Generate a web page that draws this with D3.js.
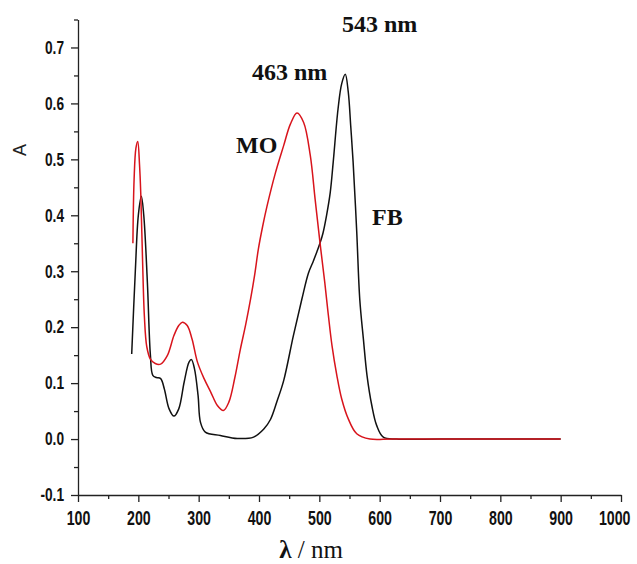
<!DOCTYPE html>
<style>
    body { margin: 0; background: #fff; }
    .axis text { font-family: "Liberation Sans", Arial, sans-serif; font-weight: bold; fill: #111; }
    .axis path, .axis line { stroke: #222; stroke-width: 1.3; }
    .lbl { font-family: "Liberation Serif", "Times New Roman", serif; font-weight: bold; font-size: 24px; fill: #111; }
</style>
<svg width="637" height="564"></svg>
<script src="https://d3js.org/d3.v7.min.js"></script>
<script>
// FB (black) spectrum
var fbWavelength = [189, 195, 200, 205, 209, 215, 220, 224, 230, 237, 243, 251, 259, 267, 276, 284, 288, 293, 299, 303, 311, 336, 364, 391, 408, 419, 430, 441, 457, 471, 482, 490, 496, 501, 506, 512, 518, 523, 531, 537, 543, 548, 552, 556, 562, 567, 573, 579, 587, 595, 606, 628, 700, 800, 900];
var fbAbsorbance = [0.152, 0.30, 0.40, 0.434, 0.40, 0.28, 0.15, 0.114, 0.11, 0.108, 0.09, 0.054, 0.041, 0.054, 0.102, 0.1375, 0.142, 0.126, 0.078, 0.030, 0.0125, 0.0065, 0.001, 0.0035, 0.018, 0.035, 0.068, 0.105, 0.185, 0.25, 0.297, 0.318, 0.335, 0.35, 0.368, 0.40, 0.44, 0.495, 0.59, 0.635, 0.652, 0.62, 0.56, 0.495, 0.37, 0.25, 0.179, 0.114, 0.06, 0.0245, 0.0035, 0.0, 0.0, 0.0, 0.0];

// MO (red) spectrum
var moWavelength = [191, 193, 196, 199, 202, 204, 207, 210, 214, 220, 228, 237, 248, 259, 267, 273, 281, 289, 298, 309, 320, 331, 341, 350, 360, 369, 378, 386, 393, 399, 406, 413, 427, 441, 452, 463, 474, 485, 493, 501, 509, 515, 521, 529, 537, 548, 562, 584, 620, 700, 800, 900];
var moAbsorbance = [0.35, 0.465, 0.52, 0.532, 0.49, 0.44, 0.32, 0.22, 0.165, 0.143, 0.135, 0.134, 0.149, 0.185, 0.203, 0.209, 0.203, 0.179, 0.1375, 0.108, 0.084, 0.060, 0.051, 0.066, 0.11, 0.16, 0.205, 0.25, 0.295, 0.34, 0.38, 0.415, 0.475, 0.525, 0.563, 0.583, 0.566, 0.507, 0.429, 0.352, 0.28, 0.221, 0.167, 0.114, 0.072, 0.036, 0.0095, 0.0, 0.0, 0.0, 0.0, 0.0];

var xTicks = [100, 200, 300, 400, 500, 600, 700, 800, 900, 1000];
var yTicks = [-0.1, 0.0, 0.1, 0.2, 0.3, 0.4, 0.5, 0.6, 0.7];

var svg = d3.select("svg"),
    margin = {top: 19.5, right: 16, bottom: 69, left: 78},
    width = +svg.attr("width") - margin.left - margin.right,
    height = +svg.attr("height") - margin.top - margin.bottom,
    g = svg.append("g").attr("transform", "translate(" + margin.left + "," + margin.top + ")");

var x = d3.scaleLinear().domain([100, 1000]).range([0, width]);
var y = d3.scaleLinear().domain([-0.1, 0.75]).range([height, 0]);

// squeeze tick labels to look like a narrow font
function narrow(sel, k) {
    sel.selectAll("text").each(function() {
        var w = this.getComputedTextLength();
        d3.select(this).attr("textLength", w * k).attr("lengthAdjust", "spacingAndGlyphs");
    });
}

// minor ticks
g.append("g")
    .attr("class", "axis")
    .attr("transform", "translate(0," + height + ")")
    .call(d3.axisBottom(x).tickValues(d3.range(150, 1000, 100)).tickSize(4).tickFormat(""))
    .select(".domain").remove();
g.append("g")
    .attr("class", "axis")
    .call(d3.axisLeft(y).tickValues(d3.range(-0.05, 0.76, 0.1)).tickSize(4).tickFormat(""))
    .select(".domain").remove();

var xAxis = g.append("g")
    .attr("class", "axis")
    .attr("transform", "translate(0," + height + ")")
    .call(d3.axisBottom(x).tickValues(xTicks).tickSize(7).tickSizeOuter(0).tickPadding(9).tickFormat(d3.format("d")));
// condensed look via a horizontal scale on each label
xAxis.selectAll("text")
    .style("font-size", "20px")
    .attr("transform", "scale(0.71,1)");
// last label sits against the right edge
xAxis.selectAll("text").filter(function(d) { return d === 1000; })
    .attr("text-anchor", "end").attr("x", 9 / 0.71);

var yAxis = g.append("g")
    .attr("class", "axis")
    .call(d3.axisLeft(y).tickValues(yTicks).tickSize(7).tickSizeOuter(0).tickPadding(7)
        .tickFormat(function(d) { return d.toFixed(1); }));
yAxis.selectAll("text").style("font-size", "18px");
narrow(yAxis, 0.76);

var line = d3.line()
    .x(function(d) { return x(d[0]); })
    .y(function(d) { return y(d[1]); })
    .curve(d3.curveCatmullRom.alpha(0.5));

var fb = d3.zip(fbWavelength, fbAbsorbance);
var mo = d3.zip(moWavelength, moAbsorbance);

g.append("path")
    .datum(fb)
    .attr("fill", "none")
    .attr("stroke", "#111")
    .attr("stroke-width", 1.5)
    .attr("d", line);

g.append("path")
    .datum(mo)
    .attr("fill", "none")
    .attr("stroke", "#d8141c")
    .attr("stroke-width", 1.5)
    .attr("d", line);

// annotations
svg.append("text").attr("class", "lbl").attr("x", 342).attr("y", 32).text("543 nm");
svg.append("text").attr("class", "lbl").attr("x", 252).attr("y", 80).text("463 nm");
svg.append("text").attr("class", "lbl").attr("x", 236).attr("y", 153).text("MO");
svg.append("text").attr("class", "lbl").attr("x", 372).attr("y", 225).text("FB");

// axis titles
var xt = svg.append("text")
    .attr("x", 311)
    .attr("y", 558)
    .attr("text-anchor", "middle")
    .style("font-family", "'Liberation Serif', 'Times New Roman', serif")
    .style("font-size", "25px")
    .style("fill", "#111");
xt.append("tspan").style("font-weight", "bold").text("λ");
xt.append("tspan").text(" / nm");

svg.append("text")
    .attr("transform", "translate(26,150) rotate(-90)")
    .attr("text-anchor", "middle")
    .style("font-family", "'Liberation Sans', Arial, sans-serif")
    .style("font-size", "18px")
    .style("fill", "#222")
    .text("A");
</script>
